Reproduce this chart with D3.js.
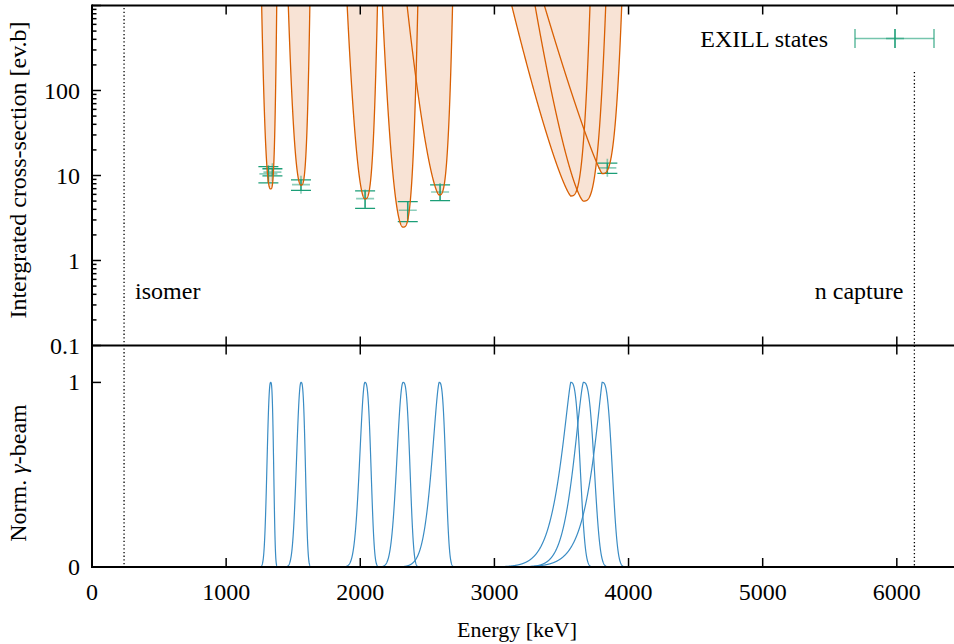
<!DOCTYPE html>
<html><head><meta charset="utf-8">
<script src="https://cdn.jsdelivr.net/npm/d3@7"></script>
<style>html,body{margin:0;padding:0;background:#fff;}svg{display:block;font-family:"Liberation Serif","DejaVu Serif",serif;}</style>
</head><body>
<svg id="chart" width="954" height="644"></svg>
<script>
// ---- data ----
const energyTicks = [0, 1000, 2000, 3000, 4000, 5000, 6000];
const xsTicks = [0.1, 1, 10, 100];
const beamTicks = [0, 1];
// beam profiles (centre energy, minimum required integrated cross-section, widths below / above)
const peakEnergy = [1332, 1558, 2034, 2319, 2588, 3569, 3663, 3803];
const minCrossSection = [6.95, 7.7, 5.3, 2.47, 5.9, 5.74, 5.0, 10.5];
const widthLow = [25.8, 32, 37, 44.5, 50.6, 68, 66.7, 63];
const widthHigh = [21, 31, 43, 48, 46, 66, 76, 70];
const shapeLow = [2.4, 2.1, 1.85, 2.0, 1.5, 1.25, 1.4, 1.15];
const shapeHigh = [3, 3, 3, 3, 3, 3, 3, 3];
// EXILL states
const exillEnergy = [1315, 1345, 1558, 2036, 2354, 2595, 3842];
const exillXS = [10.45, 10.95, 7.8, 5.35, 3.9, 6.4, 12.3];
const exillErr = [2.25, 1.05, 1.1, 1.24, 1.03, 1.34, 1.7];
// markers
const markerEnergy = [239, 6131];
const markerLabel = ["isomer", "n capture"];

const svg = d3.select("#chart");
const X0 = 92, X1 = 954.5;
const FS = 24;
const x = d3.scaleLinear().domain([0, 6430]).range([X0, X1]);
const yTop = d3.scaleLog().domain([0.1, 1000]).range([345.5, 5.5]);
const yBot = d3.scaleLinear().domain([0, 1.2]).range([567, 345.5]);

const ORANGE = "#d95f02", FILL = "#f8e3d5", GREEN = "#1b9e77", BLUE = "#3a8cc4";

function profile(i, E) {
  const d = E - peakEnergy[i];
  const s = d < 0 ? widthLow[i] : widthHigh[i];
  const p = d < 0 ? shapeLow[i] : shapeHigh[i];
  return Math.exp(-0.5 * Math.pow(Math.abs(d) / s, p));
}
const energies = d3.range(0, 6430.5, 1);

// clip paths
const defs = svg.append("defs");
defs.append("clipPath").attr("id", "clipTop").append("rect")
  .attr("x", X0).attr("y", yTop.range()[1]).attr("width", X1 - X0).attr("height", yTop.range()[0] - yTop.range()[1]);
defs.append("clipPath").attr("id", "clipBot").append("rect")
  .attr("x", X0).attr("y", yBot.range()[1]).attr("width", X1 - X0).attr("height", yBot.range()[0] - yBot.range()[1]);

// ---- top panel ----
const gTop = svg.append("g").attr("clip-path", "url(#clipTop)");
const topCurves = peakEnergy.map((c, i) =>
  energies.map(E => ({E, v: minCrossSection[i] / profile(i, E)})).filter(p => p.v < 3000));
const area = d3.area().x(p => x(p.E)).y0(yTop.range()[1] - 2).y1(p => yTop(p.v));
const line = d3.line().x(p => x(p.E)).y(p => yTop(p.v));
topCurves.forEach(pts => gTop.append("path").attr("d", area(pts)).attr("fill", FILL).attr("stroke", "none"));

// EXILL points (y error bars + "+" marks)
const gPts = gTop.append("g").attr("stroke", GREEN).attr("fill", "none");
exillEnergy.forEach((E, i) => {
  const cx = x(E), lo = yTop(exillXS[i] - exillErr[i]), hi = yTop(exillXS[i] + exillErr[i]), cy = yTop(exillXS[i]);
  gPts.append("line").attr("x1", cx).attr("x2", cx).attr("y1", lo).attr("y2", hi).attr("stroke-width", 1.3);
  gPts.append("line").attr("x1", cx - 10).attr("x2", cx + 10).attr("y1", lo).attr("y2", lo).attr("stroke-width", 1.3);
  gPts.append("line").attr("x1", cx - 10).attr("x2", cx + 10).attr("y1", hi).attr("y2", hi).attr("stroke-width", 1.3);
  gPts.append("line").attr("x1", cx - 9).attr("x2", cx + 9).attr("y1", cy).attr("y2", cy).attr("stroke-width", 1.6).attr("stroke-opacity", 0.5);
  gPts.append("line").attr("x1", cx).attr("x2", cx).attr("y1", cy - 9).attr("y2", cy + 9).attr("stroke-width", 1.6).attr("stroke-opacity", 0.5);
});
topCurves.forEach(pts => gTop.append("path").attr("d", line(pts)).attr("fill", "none").attr("stroke", ORANGE).attr("stroke-width", 1.3));

// ---- bottom panel ----
const gBot = svg.append("g").attr("clip-path", "url(#clipBot)");
peakEnergy.forEach((c, i) => {
  const l = d3.line().x(E => x(E)).y(E => yBot(profile(i, E)));
  gBot.append("path").attr("d", l(energies)).attr("fill", "none").attr("stroke", BLUE).attr("stroke-width", 1.2);
});

// ---- marker lines ----
const gMark = svg.append("g");
markerEnergy.forEach((E, i) => {
  gMark.append("line").attr("x1", x(E)).attr("x2", x(E))
    .attr("y1", i === 0 ? 8 : 72).attr("y2", 567)
    .attr("stroke", "#000").attr("stroke-width", 1.3).attr("stroke-dasharray", "1.3,2.4");
});
gMark.append("text").attr("x", x(markerEnergy[0]) + 11).attr("y", 299).attr("font-size", FS).text(markerLabel[0]);
gMark.append("text").attr("x", x(markerEnergy[1]) - 11).attr("y", 299).attr("font-size", FS).attr("text-anchor", "end").text(markerLabel[1]);

// ---- axes ----
const axisW = 2;
svg.append("line").attr("x1", X0).attr("x2", 954).attr("y1", 5.5).attr("y2", 5.5).attr("stroke", "#000").attr("stroke-width", axisW);
svg.append("line").attr("x1", X0).attr("x2", 954).attr("y1", 345.5).attr("y2", 345.5).attr("stroke", "#000").attr("stroke-width", axisW);
svg.append("line").attr("x1", X0).attr("x2", 954).attr("y1", 567).attr("y2", 567).attr("stroke", "#000").attr("stroke-width", axisW);
svg.append("line").attr("x1", X0).attr("x2", X0).attr("y1", 4.5).attr("y2", 568).attr("stroke", "#000").attr("stroke-width", axisW);

// x ticks
const gx = svg.append("g").attr("stroke", "#000").attr("stroke-width", 1.5);
energyTicks.forEach(t => {
  if (t === 0) return;
  const px = x(t);
  gx.append("line").attr("x1", px).attr("x2", px).attr("y1", 5.5).attr("y2", 14.5);
  gx.append("line").attr("x1", px).attr("x2", px).attr("y1", 336.5).attr("y2", 354.5);
  gx.append("line").attr("x1", px).attr("x2", px).attr("y1", 567).attr("y2", 558);
});
svg.append("g").selectAll("text").data(energyTicks).join("text")
  .attr("x", d => x(d)).attr("y", 600).attr("text-anchor", "middle").attr("font-size", FS).text(d => d);

// y ticks top (log)
const gy = svg.append("g").attr("stroke", "#000").attr("stroke-width", 1.5);
const minor = [];
for (let dec = 0.1; dec < 1000; dec *= 10) for (let m = 2; m <= 9; m++) minor.push(+(dec * m).toPrecision(3));
minor.forEach(v => gy.append("line").attr("x1", X0).attr("x2", X0 + 4.5).attr("y1", yTop(v)).attr("y2", yTop(v)));
xsTicks.concat([1000]).forEach(v => gy.append("line").attr("x1", X0).attr("x2", X0 + 9).attr("y1", yTop(v)).attr("y2", yTop(v)));
svg.append("g").selectAll("text").data(xsTicks).join("text")
  .attr("x", 80).attr("y", d => yTop(d) + 8).attr("text-anchor", "end").attr("font-size", FS).text(d => d);

// y ticks bottom
beamTicks.forEach(v => gy.append("line").attr("x1", X0).attr("x2", X0 + 9).attr("y1", yBot(v)).attr("y2", yBot(v)));
svg.append("g").selectAll("text").data(beamTicks).join("text")
  .attr("x", 80).attr("y", d => yBot(d) + 8).attr("text-anchor", "end").attr("font-size", FS).text(d => d);

// axis titles
svg.append("text").attr("transform", "translate(26,170) rotate(-90)").attr("text-anchor", "middle").attr("font-size", FS)
  .text("Intergrated cross-section [ev.b]");
const tb = svg.append("text").attr("transform", "translate(26,473) rotate(-90)").attr("text-anchor", "middle").attr("font-size", FS);
tb.append("tspan").text("Norm. ");
tb.append("tspan").attr("font-style", "italic").text("γ");
tb.append("tspan").text("-beam");
svg.append("text").attr("x", 517).attr("y", 637).attr("text-anchor", "middle").attr("font-size", 22).text("Energy [keV]");

// legend
const lg = svg.append("g");
lg.append("text").attr("x", 828).attr("y", 47).attr("text-anchor", "end").attr("font-size", FS).text("EXILL states");
const ly = 38.5;
lg.append("line").attr("x1", 855).attr("x2", 934).attr("y1", ly).attr("y2", ly).attr("stroke", GREEN).attr("stroke-width", 1.3).attr("stroke-opacity", 0.6);
[855, 934].forEach(px => lg.append("line").attr("x1", px).attr("x2", px).attr("y1", ly - 9.5).attr("y2", ly + 9.5).attr("stroke", GREEN).attr("stroke-width", 1.3).attr("stroke-opacity", 0.8));
lg.append("line").attr("x1", 886).attr("x2", 904).attr("y1", ly).attr("y2", ly).attr("stroke", GREEN).attr("stroke-width", 1.6).attr("stroke-opacity", 0.6);
lg.append("line").attr("x1", 895).attr("x2", 895).attr("y1", ly - 9.5).attr("y2", ly + 9.5).attr("stroke", GREEN).attr("stroke-width", 1.6);
</script>
</body></html>
